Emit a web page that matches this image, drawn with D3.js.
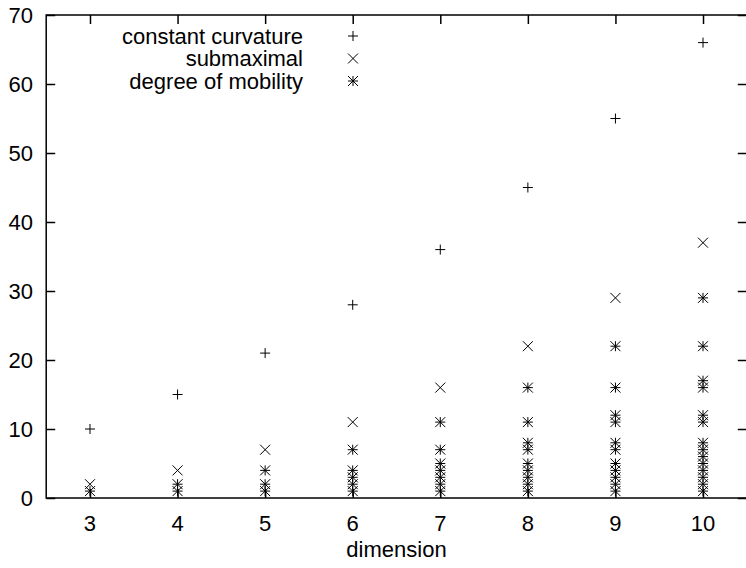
<!doctype html>
<html>
<head>
<meta charset="utf-8">
<script src="https://cdn.jsdelivr.net/npm/d3@7"></script>
<style>
  body { margin: 0; background: #fff; }
  text { font-family: "Liberation Sans", Arial, Helvetica, sans-serif; fill: #000; }
</style>
</head>
<body>
<div id="chart"></div>
<script>
// data
var dims = [3, 4, 5, 6, 7, 8, 9, 10];
var constantCurvature = [10, 15, 21, 28, 36, 45, 55, 66];
var submaximal = [2, 4, 7, 11, 16, 22, 29, 37];
var mobility = [
  [1],
  [1, 2],
  [1, 2, 4],
  [1, 2, 3, 4, 7],
  [1, 2, 3, 4, 5, 7, 11],
  [1, 2, 3, 4, 5, 7, 8, 11, 16],
  [1, 2, 3, 4, 5, 7, 8, 11, 12, 16, 22],
  [1, 2, 3, 4, 5, 6, 7, 8, 11, 12, 16, 17, 22, 29]
];
var yTicks = [0, 10, 20, 30, 40, 50, 60, 70];
var legendNames = ["constant curvature", "submaximal", "degree of mobility"];

var W = 746, H = 568;
var svg = d3.select("#chart").append("svg")
    .attr("width", W)
    .attr("height", H);

var x = d3.scaleLinear().domain([2.5, 10.5]).range([46.2, 746.8]);
var y = d3.scaleLinear().domain([0, 70]).range([498, 15]);
var tickLen = 9;
var fs = "22px";

// frame
svg.append("rect")
    .attr("x", x(2.5)).attr("y", y(70))
    .attr("width", x(10.5) - x(2.5)).attr("height", y(0) - y(70))
    .attr("fill", "none").attr("stroke", "#000").attr("stroke-width", 1.5);

// y axis left + mirrored right
svg.append("g")
    .attr("transform", "translate(" + x(2.5) + ",0)")
    .call(d3.axisRight(y).tickValues(yTicks).tickSize(tickLen).tickFormat(""))
    .call(function(g) { g.select(".domain").remove(); });
svg.append("g")
    .attr("transform", "translate(" + x(10.5) + ",0)")
    .call(d3.axisLeft(y).tickValues(yTicks).tickSize(tickLen).tickFormat(""))
    .call(function(g) { g.select(".domain").remove(); });
svg.selectAll(".ylab")
    .data(yTicks)
  .enter().append("text")
    .attr("class", "ylab")
    .attr("x", 33)
    .attr("y", function(d) { return y(d); })
    .attr("dy", "0.36em")
    .attr("text-anchor", "end")
    .style("font-size", fs)
    .text(function(d) { return d; });

// x axis bottom + mirrored top
svg.append("g")
    .attr("transform", "translate(0," + y(0) + ")")
    .call(d3.axisTop(x).tickValues(dims).tickSize(tickLen).tickFormat(""))
    .call(function(g) { g.select(".domain").remove(); });
svg.append("g")
    .attr("transform", "translate(0," + y(70) + ")")
    .call(d3.axisBottom(x).tickValues(dims).tickSize(tickLen).tickFormat(""))
    .call(function(g) { g.select(".domain").remove(); });
svg.selectAll("g.tick line").attr("stroke", "#000").attr("stroke-width", 1.5);
svg.selectAll(".xlab")
    .data(dims)
  .enter().append("text")
    .attr("class", "xlab")
    .attr("x", function(d) { return x(d); })
    .attr("y", 523)
    .attr("dy", "0.36em")
    .attr("text-anchor", "middle")
    .style("font-size", fs)
    .text(function(d) { return d; });

svg.append("text")
    .attr("x", (x(2.5) + x(10.5)) / 2)
    .attr("y", 549)
    .attr("dy", "0.36em")
    .attr("text-anchor", "middle")
    .style("font-size", fs)
    .text("dimension");

// point symbols
var s = 5;
function plus(px, py) {
  return "M" + (px - s) + "," + py + "H" + (px + s) + "M" + px + "," + (py - s) + "V" + (py + s);
}
function cross(px, py) {
  return "M" + (px - s) + "," + (py - s) + "L" + (px + s) + "," + (py + s) +
         "M" + (px - s) + "," + (py + s) + "L" + (px + s) + "," + (py - s);
}
function star(px, py) { return plus(px, py) + cross(px, py); }

var marks = svg.append("g")
    .attr("fill", "none").attr("stroke", "#000").attr("stroke-width", 1);

marks.selectAll(".cc")
    .data(dims)
  .enter().append("path")
    .attr("d", function(d, i) { return plus(x(d), y(constantCurvature[i])); });

marks.selectAll(".sm")
    .data(dims)
  .enter().append("path")
    .attr("d", function(d, i) { return cross(x(d), y(submaximal[i])); });

var mobPts = [];
dims.forEach(function(d, i) {
  mobility[i].forEach(function(v) { mobPts.push({dim: d, value: v}); });
});
marks.selectAll(".dm")
    .data(mobPts)
  .enter().append("path")
    .attr("d", function(d) { return star(x(d.dim), y(d.value)); });

// legend
var legY = [36, 58.5, 81];
var legSym = [plus, cross, star];
legendNames.forEach(function(name, i) {
  svg.append("text")
      .attr("x", 303)
      .attr("y", legY[i])
      .attr("dy", "0.36em")
      .attr("text-anchor", "end")
      .style("font-size", fs)
      .text(name);
  marks.append("path").attr("d", legSym[i](353, legY[i]));
});
</script>
</body>
</html>
